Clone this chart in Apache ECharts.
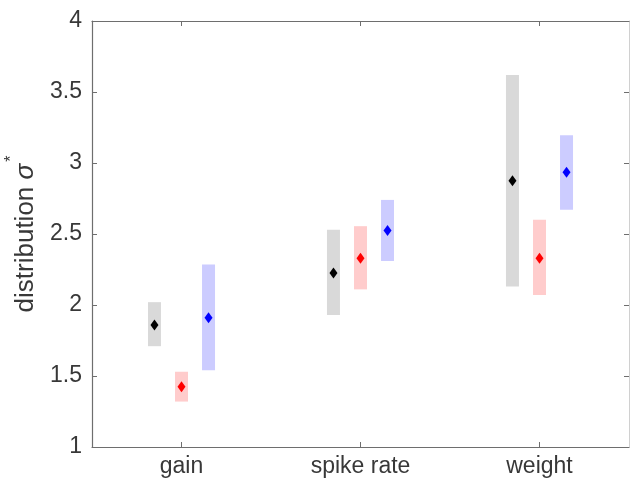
<!DOCTYPE html>
<html>
<head>
<meta charset="utf-8">
<script src="https://cdn.jsdelivr.net/npm/echarts@6/dist/echarts.min.js"></script>
<style>
  html, body { margin: 0; padding: 0; background: #fff; }
  #chart { width: 630px; height: 480px; }
</style>
</head>
<body>
<div id="chart"></div>
<script>
// Condition labels along the x axis
const categories = ['gain', 'spike rate', 'weight'];
const yTicks = [1, 1.5, 2, 2.5, 3, 3.5, 4];

// Gray condition: interval low / high and point estimate
const grayLow  = [1.71, 1.93, 2.13];
const grayHigh = [2.02, 2.53, 3.62];
const grayMid  = [1.86, 2.225, 2.875];

// Red condition
const redLow  = [1.32, 2.11, 2.07];
const redHigh = [1.53, 2.555, 2.60];
const redMid  = [1.425, 2.33, 2.33];

// Blue condition
const blueLow  = [1.54, 2.31, 2.67];
const blueHigh = [2.285, 2.74, 3.195];
const blueMid  = [1.91, 2.525, 2.935];

const FONT = '"Liberation Sans", Arial, Helvetica, sans-serif';
const AXIS_COLOR = '#6e6e6e';
const TEXT_COLOR = '#383838';

function rows(lo, hi, mid) {
  return categories.map((c, i) => [i, lo[i], hi[i], mid[i]]);
}

// Draws a shaded interval bar with a diamond marker, shifted within the category band
function makeRenderer(offsetFrac, fill, markColor) {
  return function (params, api) {
    const cat = api.value(0);
    const lo = api.coord([cat, api.value(1)]);
    const hi = api.coord([cat, api.value(2)]);
    const mid = api.coord([cat, api.value(3)]);
    const band = api.size([1, 0])[0];
    const cx = lo[0] + offsetFrac * band;
    const w = band * 0.0726;
    const hw = 4, hh = 5.5;
    return {
      type: 'group',
      children: [
        {
          type: 'rect',
          shape: { x: cx - w / 2, y: hi[1], width: w, height: lo[1] - hi[1] },
          style: { fill: fill }
        },
        {
          type: 'polygon',
          shape: { points: [[cx, mid[1] - hh], [cx + hw, mid[1]], [cx, mid[1] + hh], [cx - hw, mid[1]]] },
          style: { fill: markColor }
        }
      ]
    };
  };
}

const chart = echarts.init(document.getElementById('chart'), null, { renderer: 'canvas' });

const catAxisBase = {
  type: 'category',
  data: categories,
  boundaryGap: true,
  axisLine: { show: true, lineStyle: { color: AXIS_COLOR, width: 1.2 } },
  axisTick: { show: true, inside: true, length: 5, alignWithLabel: true, lineStyle: { color: AXIS_COLOR } },
  splitLine: { show: false }
};

const valAxisBase = {
  type: 'value',
  min: 1, max: 4, interval: 0.5,
  axisLine: { show: true, lineStyle: { color: AXIS_COLOR, width: 1.2 } },
  axisTick: { show: true, inside: true, length: 5, lineStyle: { color: AXIS_COLOR } },
  splitLine: { show: false }
};

chart.setOption({
  animation: false,
  backgroundColor: '#ffffff',
  grid: { left: 92, right: 1, top: 21, bottom: 33, containLabel: false, outerBoundsMode: 'none' },
  xAxis: [
    Object.assign({}, catAxisBase, {
      position: 'bottom',
      axisLabel: { show: true, color: TEXT_COLOR, fontSize: 23, fontFamily: FONT, margin: 8 }
    }),
    Object.assign({}, catAxisBase, {
      position: 'top',
      axisLabel: { show: false }
    })
  ],
  yAxis: [
    Object.assign({}, valAxisBase, {
      position: 'left',
      axisLabel: {
        show: true, color: TEXT_COLOR, fontSize: 23, fontFamily: FONT, margin: 10,
        formatter: v => (yTicks.indexOf(v) >= 0 ? String(v) : '')
      },
      name: '{t|distribution }{s|σ}{p|*}',
      nameLocation: 'middle',
      nameRotate: 90,
      nameGap: 34,
      nameTextStyle: {
        color: TEXT_COLOR,
        fontFamily: FONT,
        rich: {
          t: { fontSize: 26, fontFamily: FONT, color: TEXT_COLOR },
          s: { fontSize: 26, fontFamily: FONT, fontStyle: 'italic', color: TEXT_COLOR },
          p: { fontSize: 16, fontFamily: FONT, color: TEXT_COLOR, padding: [0, 0, 30, 2] }
        }
      }
    }),
    Object.assign({}, valAxisBase, {
      position: 'right',
      axisLine: { show: true, lineStyle: { color: '#d0d0d0', width: 1 } },
      axisLabel: { show: false }
    })
  ],
  series: [
    {
      type: 'custom', name: 'gray', xAxisIndex: 0, yAxisIndex: 0,
      renderItem: makeRenderer(-0.151, '#d9d9d9', '#000000'),
      data: rows(grayLow, grayHigh, grayMid)
    },
    {
      type: 'custom', name: 'red', xAxisIndex: 0, yAxisIndex: 0,
      renderItem: makeRenderer(0, '#ffcccc', '#ff0000'),
      data: rows(redLow, redHigh, redMid)
    },
    {
      type: 'custom', name: 'blue', xAxisIndex: 0, yAxisIndex: 0,
      renderItem: makeRenderer(0.151, '#ccccff', '#0000ff'),
      data: rows(blueLow, blueHigh, blueMid)
    }
  ]
});
</script>
</body>
</html>
